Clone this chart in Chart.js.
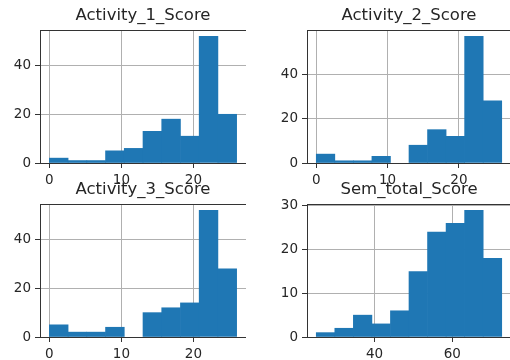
<!DOCTYPE html>
<html><head><meta charset="utf-8">
<script src="https://cdn.jsdelivr.net/npm/chart.js@4.4.1/dist/chart.umd.min.js"></script>
<style>
html,body{margin:0;padding:0;background:#fff;width:510px;height:360px;overflow:hidden;}
canvas{position:absolute;}
</style></head><body>
<canvas id="c1" width="246" height="186" style="left:0;top:0"></canvas>
<canvas id="c2" width="244" height="186" style="left:267px;top:0"></canvas>
<canvas id="c3" width="246" height="186" style="left:0;top:174px"></canvas>
<canvas id="c4" width="244" height="186" style="left:267px;top:174px"></canvas>
<script>
// ---- data ----
const panelTitles = ['Activity_1_Score', 'Activity_2_Score', 'Activity_3_Score', 'Sem_total_Score'];
const activity1Counts = [2, 1, 1, 5, 6, 13, 18, 11, 52, 20];
const activity2Counts = [4, 1, 1, 3, 0, 8, 15, 12, 57, 28];
const activity3Counts = [5, 2, 2, 4, 0, 10, 12, 14, 52, 28];
const semTotalCounts  = [1, 2, 5, 3, 6, 15, 24, 26, 29, 18];
const activityBinEdges = [0, 2.6, 5.2, 7.8, 10.4, 13, 15.6, 18.2, 20.8, 23.4, 26];
const semTotalBinEdges = [25, 29.77, 34.54, 39.31, 44.08, 48.85, 53.62, 58.39, 63.16, 67.93, 72.7];
const activityXTicks = [0, 10, 20];
const semTotalXTicks = [40, 60];
const activityYTicks = [0, 20, 40];
const semTotalYTicks = [0, 10, 20, 30];

const FONT = 'DejaVu Sans';
const TEXT = '#262626';
const SPINE = '#333333';

const framePlugin = {
  id: 'frame',
  afterDraw(chart) {
    const {ctx, chartArea: a} = chart;
    ctx.save();
    ctx.strokeStyle = SPINE;
    ctx.lineWidth = 1;
    const top = Math.round(a.top - 0.5) + 0.5;
    const right = Math.round(a.right - 0.5) + 0.5;
    const left = Math.round(a.left - 0.5) + 0.5;
    const bottom = Math.round(a.bottom - 0.5) + 0.5;
    ctx.beginPath();
    ctx.moveTo(left, top);
    ctx.lineTo(right, top);
    ctx.lineTo(right, bottom);
    ctx.stroke();
    ctx.restore();
  }
};

function makeHist(id, title, edges, counts, xTicks, yTicks) {
  const centers = counts.map((_, i) => (edges[i] + edges[i + 1]) / 2);
  const lo = edges[0], hi = edges[edges.length - 1];
  const pad = (hi - lo) * 0.05;
  const ymax = Math.max(...counts) * 1.05;
  new Chart(document.getElementById(id), {
    type: 'bar',
    data: {
      datasets: [{
        data: centers.map((c, i) => ({x: c, y: counts[i]})),
        backgroundColor: '#1f77b4',
        borderWidth: 0,
        barPercentage: 1,
        categoryPercentage: 1,
        inflateAmount: c => (c.raw && c.raw.y === 0) ? 0 : 0.33
      }]
    },
    options: {
      responsive: false,
      animation: false,
      events: [],
      layout: {padding: 0},
      plugins: {
        legend: {display: false},
        tooltip: {enabled: false},
        title: {
          display: true, text: title, color: TEXT, fullSize: false,
          font: {family: FONT, size: 16.5, weight: 'normal'},
          padding: {top: 6, bottom: 4.2}
        }
      },
      scales: {
        x: {
          type: 'linear', min: lo - pad, max: hi + pad, offset: false, z: 1,
          afterBuildTicks: ax => { ax.ticks = xTicks.map(v => ({value: v})); },
          afterFit: ax => { ax.height = 23; },
          grid: {offset: false, color: '#b0b0b0', lineWidth: 1, tickLength: 5, tickColor: SPINE, drawTicks: true},
          border: {color: SPINE, width: 1},
          ticks: {font: {family: FONT, size: 13.5}, color: TEXT, padding: 4, maxRotation: 0, autoSkip: false}
        },
        y: {
          type: 'linear', min: 0, max: ymax, z: 1,
          afterBuildTicks: ax => { ax.ticks = yTicks.map(v => ({value: v})); },
          afterFit: ax => { ax.width = 40; },
          grid: {offset: false, color: '#b0b0b0', lineWidth: 1, tickLength: 5, tickColor: SPINE, drawTicks: true},
          border: {color: SPINE, width: 1},
          ticks: {font: {family: FONT, size: 13.5}, color: TEXT, padding: 4, autoSkip: false}
        }
      }
    },
    plugins: [framePlugin]
  });
}

makeHist('c1', panelTitles[0], activityBinEdges, activity1Counts, activityXTicks, activityYTicks);
makeHist('c2', panelTitles[1], activityBinEdges, activity2Counts, activityXTicks, activityYTicks);
makeHist('c3', panelTitles[2], activityBinEdges, activity3Counts, activityXTicks, activityYTicks);
makeHist('c4', panelTitles[3], semTotalBinEdges, semTotalCounts, semTotalXTicks, semTotalYTicks);
</script>
</body></html>
